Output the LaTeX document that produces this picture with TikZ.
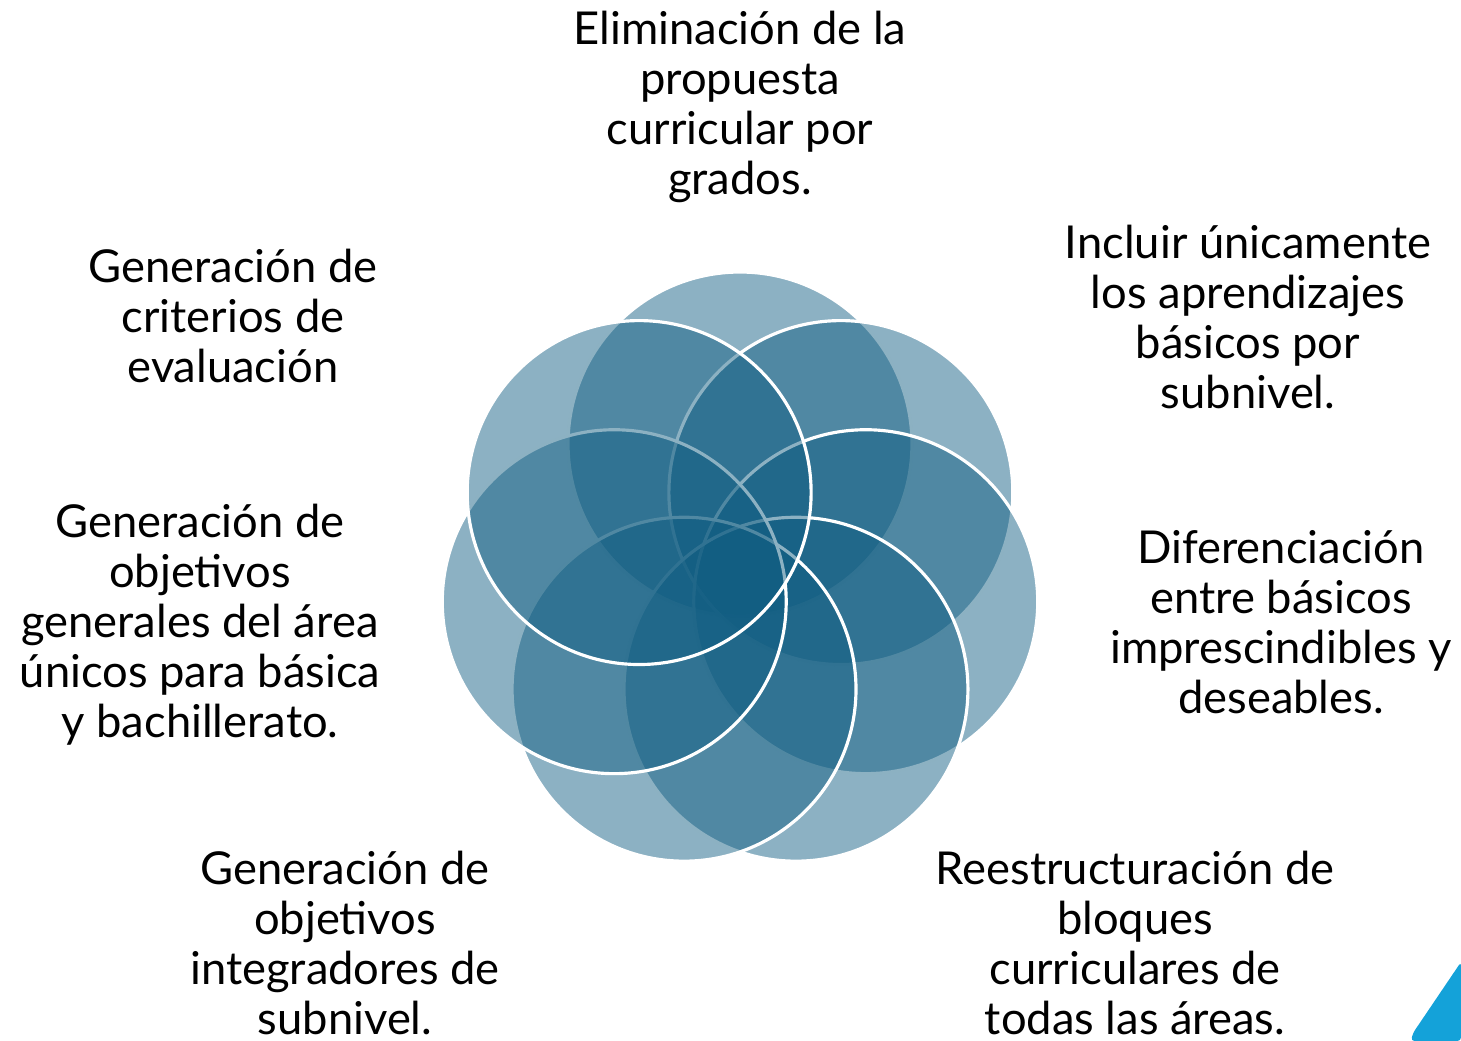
\documentclass[tikz,border=0pt]{standalone}
\usepackage{fontspec}
\setmainfont{Lato}
\definecolor{petalBlue}{RGB}{15,92,129}
\definecolor{cornerBlue}{RGB}{20,162,217}
\begin{document}
\begin{tikzpicture}[x=0.02cm, y=0.02cm]
		\tikzstyle{Petal} = [fill=petalBlue, fill opacity=0.48, draw=white, draw opacity=1, line width=1.8pt]
		\tikzstyle{Label} = [align=center, text=black, inner sep=0pt, font=\fontsize{25.8}{28.45}\selectfont]
		
		\useasboundingbox (0,0) rectangle (1461,1041);
		\coordinate (hub) at (740,468);
		\foreach \i in {0,...,6}
			\draw [Petal] (hub) ++({90-\i*360/7}:129) circle [radius=3.44cm];
		
		\node (topLabel) [Label] at (740,934) {Eliminación de la\\propuesta\\curricular por\\grados.};
		\node (upRightLabel) [Label] at (1248,724) {Incluir únicamente\\los aprendizajes\\básicos por\\subnivel.};
		\node (rightLabel) [Label] at (1281,419) {Diferenciación\\entre básicos\\imprescindibles y\\deseables.};
		\node (lowRightLabel) [Label] at (1135,98) {Reestructuración de\\bloques\\curriculares de\\todas las áreas.};
		\node (lowLeftLabel) [Label] at (345,98) {Generación de\\objetivos\\integradores de\\subnivel.};
		\node (leftLabel) [Label] at (200,416) {Generación de\\objetivos\\generales del área\\únicos para básica\\y bachillerato.};
		\node (upLeftLabel) [Label] at (233,725) {Generación de\\criterios de\\evaluación};
		
		\fill [cornerBlue, rounded corners=2pt] (1411,0) -- (1413,8) -- (1461,79) -- (1461,0) -- cycle;
		\end{tikzpicture}
\end{document}
